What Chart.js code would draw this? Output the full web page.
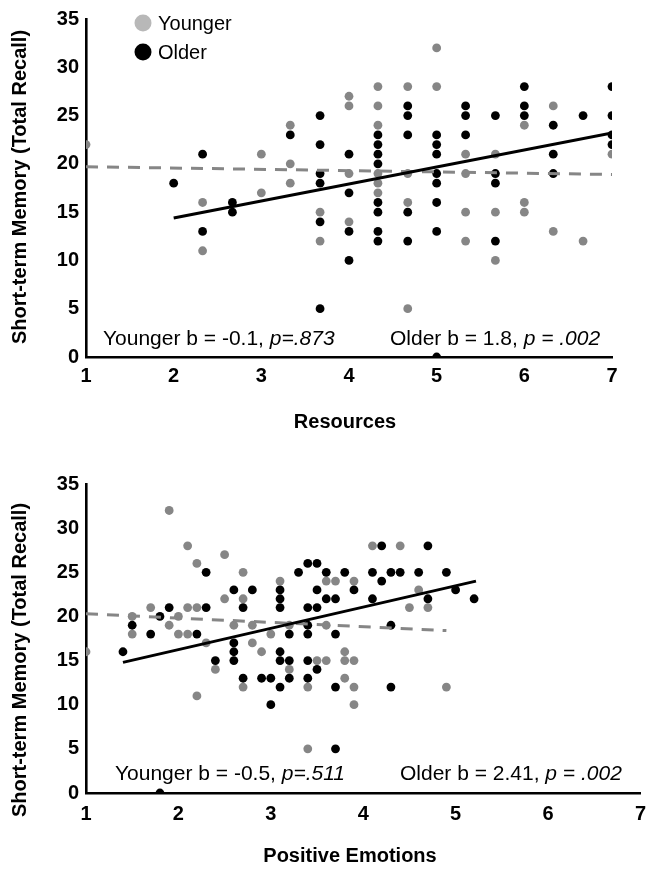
<!DOCTYPE html>
<html><head><meta charset="utf-8">
<script src="https://cdn.jsdelivr.net/npm/chart.js@4.4.1/dist/chart.umd.min.js"></script>
<style>
html,body{margin:0;padding:0;background:#fff;}
#wrap{position:relative;width:655px;height:869px;overflow:hidden;}
#c1{position:absolute;left:0;top:0;}
#c2{position:absolute;left:0;top:440px;}
</style></head><body>
<div id="wrap"><canvas id="c1" width="655" height="440"></canvas><canvas id="c2" width="655" height="429"></canvas></div>
<script>
// ---- shared labels / ticks ----
const xTickValues = [1, 2, 3, 4, 5, 6, 7];
const yTickValues = [0, 5, 10, 15, 20, 25, 30, 35];
const seriesNames = ['Younger', 'Older'];
const yAxisTitle = 'Short-term Memory (Total Recall)';
const topXTitle = 'Resources';
const bottomXTitle = 'Positive Emotions';

// ---- Chart 1: Resources ----
const resYoungerX = [1,2.33,2.33,3,3,3.33,3.33,3.33,3.67,3.67,4,4,4,4,4.33,4.33,4.33,4.33,4.33,4.33,4.67,4.67,4.67,4.67,5,5,5.33,5.33,5.33,5.33,5.67,5.67,5.67,6,6,6,6.33,6.33,6.67,7];
const resYoungerY = [22,16,11,21,17,24,20,18,15,12,27,26,19,14,28,26,24,19,18,17,28,19,16,5,32,28,21,19,15,12,21,15,10,24,16,15,26,13,12,21];
const resOlderX = [2,2.33,2.33,2.67,2.67,3.33,3.67,3.67,3.67,3.67,3.67,3.67,4,4,4,4,4.33,4.33,4.33,4.33,4.33,4.33,4.33,4.33,4.67,4.67,4.67,4.67,4.67,5,5,5,5,5,5,5,5,5.33,5.33,5.33,5.67,5.67,5.67,5.67,6,6,6,6.33,6.33,6.33,6.67,7,7,7,7];
const resOlderY = [18,21,13,16,15,23,25,22,19,18,14,5,21,17,13,10,23,22,21,20,16,15,13,12,26,25,23,15,12,23,22,21,19,18,16,13,0,26,25,23,25,19,18,12,28,26,25,24,21,19,25,28,25,23,22];
const resYoungerFitX = [1, 7];
const resYoungerFitY = [19.7, 18.9];
const resOlderFitX = [2, 7];
const resOlderFitY = [14.4, 23.2];
const resNotes = [['Younger b = -0.1, ', 'p=.873'], ['Older b = 1.8, ', 'p = .002']];

// ---- Chart 2: Positive Emotions ----
const peYoungerX = [1.0,1.5,1.5,1.7,1.9,1.9,2.0,2.0,2.1,2.1,2.1,2.2,2.2,2.2,2.3,2.4,2.5,2.5,2.6,2.7,2.7,2.7,2.8,2.8,2.9,3.0,3.1,3.2,3.2,3.4,3.4,3.5,3.6,3.6,3.6,3.7,3.8,3.8,3.8,3.9,3.9,3.9,3.9,4.1,4.4,4.5,4.6,4.7,4.9];
const peYoungerY = [16,20,18,21,32,19,20,18,28,21,18,26,21,11,17,14,27,22,19,25,22,12,19,17,16,18,24,19,14,12,5,15,24,19,15,24,16,15,13,24,15,12,10,28,28,21,23,21,12];
const peOlderX = [1.4,1.5,1.7,1.8,1.8,1.9,2.2,2.3,2.3,2.4,2.6,2.6,2.6,2.6,2.7,2.7,2.8,2.9,3.0,3.0,3.1,3.1,3.1,3.1,3.1,3.1,3.2,3.2,3.2,3.3,3.4,3.4,3.4,3.4,3.4,3.4,3.5,3.5,3.5,3.5,3.6,3.6,3.7,3.7,3.7,3.7,3.8,3.9,4.1,4.1,4.2,4.2,4.3,4.3,4.3,4.4,4.6,4.7,4.7,4.9,5.0,5.2];
const peOlderY = [16,19,18,20,0,21,18,25,21,15,23,17,16,15,21,13,23,13,13,10,23,22,21,16,15,12,18,15,13,25,26,21,19,18,15,13,26,23,21,14,25,22,22,18,12,5,25,23,22,25,28,24,25,19,12,25,25,28,22,25,23,22];
const peYoungerFitX = [1, 4.9];
const peYoungerFitY = [20.3, 18.4];
const peOlderFitX = [1.4, 5.22];
const peOlderFitY = [14.8, 24.0];
const peNotes = [['Younger b = -0.5, ', 'p=.511'], ['Older b = 2.41, ', 'p = .002']];

const FONT = '"Liberation Sans", Arial, Helvetica, sans-serif';
const GRAY = '#868686';
const LEGEND_GRAY = '#b8b8b8';

function zip(xs, ys) { return xs.map((x, i) => ({x: x, y: ys[i]})); }

function drawMixed(ctx, x, y, parts, size) {
  let cx = x;
  parts.forEach((t, i) => {
    ctx.font = (i === 1 ? 'italic ' : '') + size + 'px ' + FONT;
    ctx.fillText(t, cx, y);
    cx += ctx.measureText(t).width;
  });
}

const textPlugin = {
  id: 'textPlugin',
  afterDraw(chart) {
    const o = chart.options.plugins.textPlugin;
    if (!o) return;
    const ctx = chart.ctx;
    ctx.save();
    ctx.fillStyle = '#000';
    ctx.textBaseline = 'middle';
    ctx.textAlign = 'left';
    o.notes.forEach((n, i) => drawMixed(ctx, o.notePos[i][0], o.notePos[i][1], n, o.noteSize));
    ctx.save();
    ctx.translate(o.yTitlePos[0], o.yTitlePos[1]);
    ctx.rotate(-Math.PI / 2);
    ctx.textAlign = 'center';
    ctx.font = 'bold ' + o.titleSize + 'px ' + FONT;
    ctx.fillText(yAxisTitle, 0, 0);
    ctx.restore();
    ctx.textAlign = 'center';
    ctx.font = 'bold ' + o.titleSize + 'px ' + FONT;
    ctx.fillText(o.xTitle, o.xTitlePos[0], o.xTitlePos[1]);
    if (o.legend) {
      const L = o.legend;
      seriesNames.forEach((name, i) => {
        ctx.beginPath();
        ctx.fillStyle = i === 0 ? LEGEND_GRAY : '#000';
        ctx.arc(L.x, L.y + i * L.gap, L.r, 0, Math.PI * 2);
        ctx.fill();
        ctx.fillStyle = '#000';
        ctx.textAlign = 'left';
        ctx.font = L.size + 'px ' + FONT;
        ctx.fillText(name, L.x + L.textDx, L.y + i * L.gap + 1);
      });
    }
    ctx.restore();
  }
};

function makeChart(canvasId, d) {
  return new Chart(document.getElementById(canvasId), {
    type: 'scatter',
    data: {
      datasets: [
        {label: seriesNames[1] + ' fit', type: 'line', data: zip(d.ofx, d.ofy), borderColor: '#000', borderWidth: 3, pointRadius: 0, fill: false, order: 0},
        {label: seriesNames[0] + ' fit', type: 'line', data: zip(d.yfx, d.yfy), borderColor: GRAY, borderWidth: 3, borderDash: [12, 9], pointRadius: 0, fill: false, order: 1},
        {label: seriesNames[1], data: zip(d.ox, d.oy), backgroundColor: '#000', borderWidth: 0, pointRadius: 4.4, order: 2},
        {label: seriesNames[0], data: zip(d.yx, d.yy), backgroundColor: GRAY, borderWidth: 0, pointRadius: 4.4, order: 3}
      ]
    },
    options: {
      responsive: false,
      animation: false,
      devicePixelRatio: 1,
      layout: {padding: d.padding},
      plugins: {
        legend: {display: false},
        tooltip: {enabled: false},
        textPlugin: d.text
      },
      scales: {
        x: {
          type: 'linear', min: 1, max: 7,
          afterBuildTicks: s => { s.ticks = xTickValues.map(v => ({value: v})); },
          afterFit: s => { s.height = d.xAxisH; },
          grid: {display: false, drawTicks: false},
          border: {display: true, color: '#000', width: 2.6},
          ticks: {color: '#000', padding: d.xTickPad, font: {family: FONT, size: 20, weight: 'bold'}, maxRotation: 0}
        },
        y: {
          type: 'linear', min: 0, max: 35,
          afterBuildTicks: s => { s.ticks = yTickValues.map(v => ({value: v})); },
          afterFit: s => { s.width = 86; },
          grid: {display: false, drawTicks: false},
          border: {display: true, color: '#000', width: 2.6},
          ticks: {color: '#000', padding: 7, font: {family: FONT, size: 20, weight: 'bold'}}
        }
      }
    },
    plugins: [textPlugin]
  });
}

makeChart('c1', {
  yx: resYoungerX, yy: resYoungerY, ox: resOlderX, oy: resOlderY,
  yfx: resYoungerFitX, yfy: resYoungerFitY, ofx: resOlderFitX, ofy: resOlderFitY,
  padding: {top: 17, right: 43, left: 0, bottom: 0},
  xAxisH: 83, xTickPad: 7,
  text: {
    notes: resNotes, notePos: [[103, 339], [390, 339]], noteSize: 21,
    yTitlePos: [20, 187], xTitle: topXTitle, xTitlePos: [345, 422], titleSize: 20,
    legend: {x: 143, y: 23, gap: 29, r: 8.5, textDx: 15, size: 20}
  }
});

makeChart('c2', {
  yx: peYoungerX, yy: peYoungerY, ox: peOlderX, oy: peOlderY,
  yfx: peYoungerFitX, yfy: peYoungerFitY, ofx: peOlderFitX, ofy: peOlderFitY,
  padding: {top: 44, right: 13, left: 0, bottom: 0},
  xAxisH: 76, xTickPad: 9,
  text: {
    notes: peNotes, notePos: [[115, 334], [400, 334]], noteSize: 21,
    yTitlePos: [20, 220], xTitle: bottomXTitle, xTitlePos: [350, 416], titleSize: 20
  }
});
</script>
</body></html>
